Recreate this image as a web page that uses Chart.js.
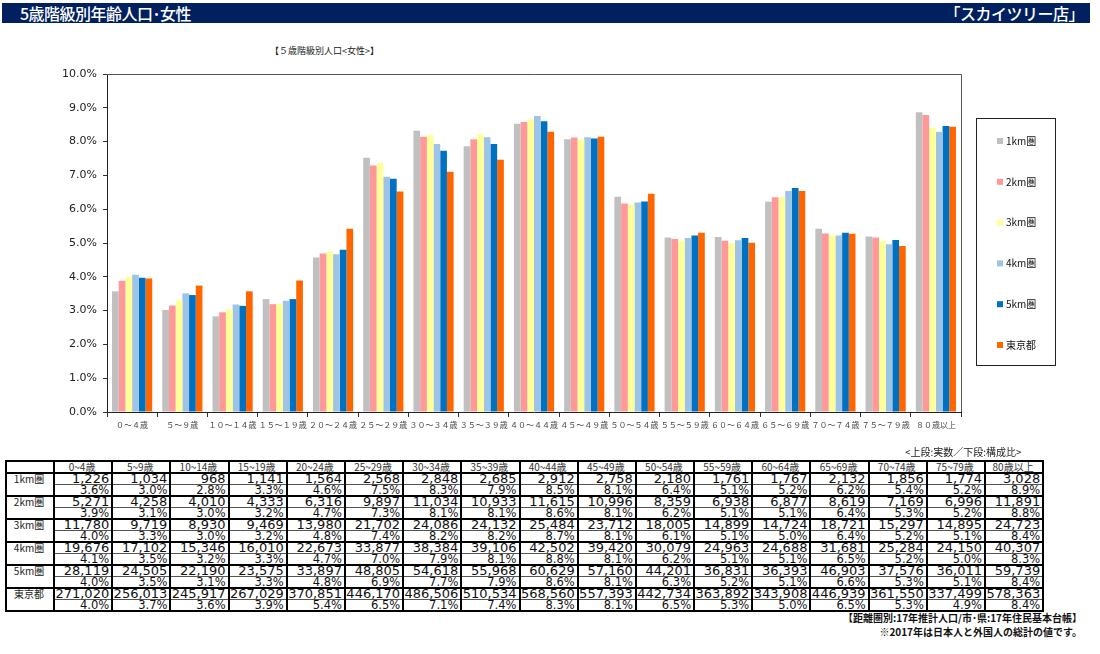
<!DOCTYPE html>
<html lang="ja">
<head>
<meta charset="utf-8">
<script src="https://cdn.jsdelivr.net/npm/chart.js@4"></script>
<style>
  html, body { margin:0; padding:0; background:#fff; }
  body { width:1100px; height:654px; position:relative; overflow:hidden; font-family:"Noto Sans CJK JP","Noto Sans",sans-serif; }
  #hdr { position:absolute; left:2px; top:3px; width:1088px; height:20px; background:#002060; color:#fff; }
  #hdr .l { position:absolute; left:18px; top:-2px; font-size:16px; font-weight:500; letter-spacing:-0.5px; }
  #hdr .r { position:absolute; right:6px; top:-2px; font-size:16px; font-weight:500; letter-spacing:-0.5px; }
  #ctitle { position:absolute; left:270px; top:44px; font-size:9px; color:#222; }
  #wrap { position:absolute; left:0; top:60px; width:1100px; height:390px; }
  #note { position:absolute; left:905px; top:444px; font-size:10px; color:#222; }
  #tbl { position:absolute; left:5px; top:460px; border-collapse:collapse; table-layout:fixed; border:2px solid #000; }
  #tbl td { padding:0 2px 0 0; height:10px; line-height:10px; border-left:2px solid #000; border-right:2px solid #000; white-space:nowrap; overflow:visible; }
  #tbl tr.h td { font-size:10px; text-align:center; color:#333; border-bottom:2px solid #000; }
  #tbl td.lab { font-size:10px; text-align:center; vertical-align:top; color:#222; border-bottom:2px solid #000; }
  #tbl tr.n td.v { font-family:"DejaVu Sans",sans-serif; font-size:13px; text-align:right; border-bottom:1px solid #555; color:#111; }
  #tbl tr.p td.v { font-family:"DejaVu Sans",sans-serif; font-size:11.5px; text-align:right; border-bottom:2px solid #000; color:#111; }
  #src1 { position:absolute; right:18px; top:610px; font-size:10px; font-weight:bold; color:#111; }
  #src2 { position:absolute; right:18px; top:624px; font-size:10px; font-weight:bold; color:#111; }
</style>
</head>
<body>
<div id="hdr"><span class="l">5歳階級別年齢人口･女性</span><span class="r">「スカイツリー店」</span></div>
<div id="ctitle">【５歳階級別人口&lt;女性&gt;】</div>
<div id="wrap"><canvas id="c" width="1100" height="390"></canvas></div>
<div id="note">&lt;上段:実数／下段:構成比&gt;</div>
<table id="tbl"></table>
<div id="src1">【距離圏別:17年推計人口/市･県:17年住民基本台帳】</div>
<div id="src2">※2017年は日本人と外国人の総計の値です。</div>
<script>
// ---- data ----
const categories = ['0~4歳','5~9歳','10~14歳','15~19歳','20~24歳','25~29歳','30~34歳','35~39歳','40~44歳','45~49歳','50~54歳','55~59歳','60~64歳','65~69歳','70~74歳','75~79歳','80歳以上'];
const axisLabels = ['０～４歳','５～９歳','１０～１４歳','１５～１９歳','２０～２４歳','２５～２９歳','３０～３４歳','３５～３９歳','４０～４４歳','４５～４９歳','５０～５４歳','５５～５９歳','６０～６４歳','６５～６９歳','７０～７４歳','７５～７９歳','８０歳以上'];
const seriesNames = ['1km圏','2km圏','3km圏','4km圏','5km圏','東京都'];
const seriesColors = ['#C0C0C0','#FF9999','#FFFF99','#9DC3E6','#0070C0','#FF6600'];
const yTicks = [0,1,2,3,4,5,6,7,8,9,10];

// bar values (% share)
const share1km = [3.57,3.02,2.83,3.34,4.57,7.52,8.32,7.86,8.53,8.07,6.37,5.16,5.18,6.22,5.42,5.19,8.87];
const share2km = [3.88,3.15,2.95,3.19,4.69,7.29,8.14,8.07,8.58,8.12,6.17,5.12,5.07,6.35,5.28,5.16,8.79];
const share3km = [4.00,3.31,3.04,3.20,4.75,7.37,8.20,8.22,8.66,8.06,6.13,5.07,5.00,6.36,5.22,5.06,8.41];
const share4km = [4.06,3.51,3.18,3.29,4.67,6.96,7.93,8.13,8.76,8.13,6.20,5.15,5.08,6.54,5.22,4.96,8.29];
const share5km = [3.97,3.46,3.14,3.34,4.80,6.90,7.73,7.93,8.60,8.09,6.23,5.22,5.15,6.63,5.30,5.09,8.46];
const shareTokyo = [3.95,3.74,3.57,3.89,5.42,6.52,7.11,7.46,8.29,8.14,6.46,5.30,5.01,6.54,5.27,4.91,8.44];

// table values
const count1km = [1226,1034,968,1141,1564,2568,2848,2685,2912,2758,2180,1761,1767,2132,1856,1774,3028];
const pct1km = [3.6,3.0,2.8,3.3,4.6,7.5,8.3,7.9,8.5,8.1,6.4,5.1,5.2,6.2,5.4,5.2,8.9];
const count2km = [5271,4258,4010,4333,6316,9897,11034,10933,11615,10996,8359,6938,6877,8619,7169,6996,11891];
const pct2km = [3.9,3.1,3.0,3.2,4.7,7.3,8.1,8.1,8.6,8.1,6.2,5.1,5.1,6.4,5.3,5.2,8.8];
const count3km = [11780,9719,8930,9469,13980,21702,24086,24132,25484,23712,18005,14899,14724,18721,15297,14895,24723];
const pct3km = [4.0,3.3,3.0,3.2,4.8,7.4,8.2,8.2,8.7,8.1,6.1,5.1,5.0,6.4,5.2,5.1,8.4];
const count4km = [19676,17102,15346,16010,22673,33877,38384,39106,42502,39420,30079,24963,24688,31681,25284,24150,40307];
const pct4km = [4.1,3.5,3.2,3.3,4.7,7.0,7.9,8.1,8.8,8.1,6.2,5.1,5.1,6.5,5.2,5.0,8.3];
const count5km = [28119,24505,22190,23575,33897,48805,54618,55968,60629,57160,44201,36831,36393,46903,37576,36011,59739];
const pct5km = [4.0,3.5,3.1,3.3,4.8,6.9,7.7,7.9,8.6,8.1,6.3,5.2,5.1,6.6,5.3,5.1,8.4];
const countTokyo = [271020,256013,245917,267029,370851,446170,486506,510534,568560,557393,442734,363892,343908,446939,361550,337499,578363];
const pctTokyo = [4.0,3.7,3.6,3.9,5.4,6.5,7.1,7.4,8.3,8.1,6.5,5.3,5.0,6.5,5.3,4.9,8.4];

// ---- table ----
(function(){
  const tbl = document.getElementById('tbl');
  const counts = [count1km,count2km,count3km,count4km,count5km,countTokyo];
  const pcts = [pct1km,pct2km,pct3km,pct4km,pct5km,pctTokyo];
  let html = '<colgroup><col style="width:48px">' + categories.map(()=> '<col style="width:58.2px">').join('') + '</colgroup>';
  html += '<tr class="h"><td></td>' + categories.map(c=>'<td>'+c+'</td>').join('') + '</tr>';
  seriesNames.forEach((name,i)=>{
    html += '<tr class="n"><td class="lab" rowspan="2">'+name+'</td>' + counts[i].map(v=>'<td class="v">'+v.toLocaleString('en-US')+'</td>').join('') + '</tr>';
    html += '<tr class="p">' + pcts[i].map(v=>'<td class="v">'+v.toFixed(1)+'%</td>').join('') + '</tr>';
  });
  tbl.innerHTML = html;
})();

// ---- chart ----
const shares = [share1km,share2km,share3km,share4km,share5km,shareTokyo];
const frame = {
  id:'frame',
  afterDatasetsDraw(chart){
    const {ctx, chartArea:a} = chart;
    ctx.save();
    ctx.strokeStyle = '#555'; ctx.lineWidth = 1;
    ctx.beginPath();
    ctx.moveTo(a.left, a.top+0.5); ctx.lineTo(a.right+0.5, a.top+0.5); ctx.lineTo(a.right+0.5, a.bottom);
    ctx.stroke();
    ctx.restore();
  }
};
const boxLegend = {
  id:'boxLegend',
  afterDraw(chart){
    const ctx = chart.ctx;
    const bx = 976, by = 58, bw = 79, bh = 247;
    ctx.save();
    ctx.fillStyle = '#fff'; ctx.fillRect(bx,by,bw,bh);
    ctx.strokeStyle = '#222'; ctx.lineWidth = 1;
    ctx.strokeRect(bx+0.5,by+0.5,bw,bh);
    ctx.font = '10px "Noto Sans CJK JP"';
    ctx.textBaseline = 'middle';
    chart.data.datasets.forEach((ds,i)=>{
      const y = by + 23 + i*40.8;
      ctx.fillStyle = ds.backgroundColor;
      ctx.fillRect(bx+21, y-3, 6, 6);
      ctx.fillStyle = '#111';
      ctx.fillText(ds.label, bx+30, y);
    });
    ctx.restore();
  }
};
new Chart(document.getElementById('c'), {
  type:'bar',
  data:{
    labels: axisLabels,
    datasets: seriesNames.map((n,i)=>({label:n, data:shares[i], backgroundColor:seriesColors[i], borderWidth:0, categoryPercentage:0.8, barPercentage:1.0}))
  },
  options:{
    responsive:false, animation:false,
    layout:{padding:{top:14,left:0,right:139,bottom:8}},
    plugins:{legend:{display:false}, tooltip:{enabled:false}, title:{display:false}},
    scales:{
      x:{
        grid:{display:true, offset:true, drawOnChartArea:false, tickLength:5, color:'#333'},
        border:{display:true, color:'#222', width:1},
        ticks:{font:{size:8, family:'"Noto Sans CJK JP"'}, color:'#444', maxRotation:0, autoSkip:false, padding:3},
        afterFit(s){ s.height = 30; }
      },
      y:{
        min:0, max:10,
        afterBuildTicks(s){ s.ticks = yTicks.map(v=>({value:v})); },
        grid:{display:true, drawOnChartArea:false, tickLength:4, color:'#333'},
        border:{display:true, color:'#222', width:1},
        ticks:{font:{size:11, family:'"DejaVu Sans"'}, color:'#222', padding:6, callback:v=>v.toFixed(1)+'%'},
        afterFit(s){ s.width = 107; }
      }
    }
  },
  plugins:[frame, boxLegend]
});
</script>
</body>
</html>
